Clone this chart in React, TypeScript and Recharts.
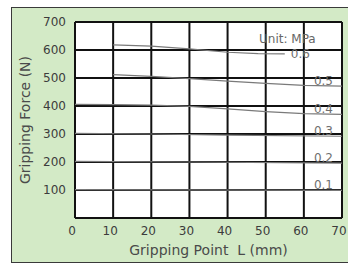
import { LineChart, Line, XAxis, YAxis, CartesianGrid } from 'recharts'

const xTicks = [0, 10, 20, 30, 40, 50, 60, 70]
const yTicks = [0, 100, 200, 300, 400, 500, 600, 700]

// gripping force (N) at gripping point L (mm), per pressure
const p06 = [
  { x: 10, y: 618 },
  { x: 20, y: 614 },
  { x: 30, y: 604 },
  { x: 40, y: 592 },
  { x: 48, y: 587 },
  { x: 55, y: 586 },
]
const p05 = [
  { x: 10, y: 512 },
  { x: 20, y: 506 },
  { x: 30, y: 498 },
  { x: 40, y: 489 },
  { x: 50, y: 481 },
  { x: 60, y: 474 },
  { x: 70, y: 471 },
]
const p04 = [
  { x: 0, y: 406 },
  { x: 10, y: 405 },
  { x: 20, y: 403 },
  { x: 30, y: 399 },
  { x: 40, y: 390 },
  { x: 50, y: 380 },
  { x: 60, y: 373 },
  { x: 70, y: 370 },
]
const p03 = [
  { x: 0, y: 302 },
  { x: 20, y: 300 },
  { x: 40, y: 296 },
  { x: 70, y: 292 },
]
const p02 = [
  { x: 0, y: 202 },
  { x: 30, y: 200 },
  { x: 70, y: 196 },
]
const p01 = [
  { x: 0, y: 101 },
  { x: 70, y: 99 },
]

const series = [
  { name: '0.6', data: p06, side: 'right' },
  { name: '0.5', data: p05, side: 'above' },
  { name: '0.4', data: p04, side: 'above' },
  { name: '0.3', data: p03, side: 'above' },
  { name: '0.2', data: p02, side: 'above' },
  { name: '0.1', data: p01, side: 'above' },
]

const font = '"DejaVu Sans", Verdana, sans-serif'

const endLabel = (name: string, side: string, last: number) => (props: any) => {
  if (props.index !== last) return null
  const { x, y } = props
  if (side === 'right') {
    return (
      <text x={x + 6} y={y + 4} fontSize={12} fill="#707070" fontFamily={font}>
        {name}
      </text>
    )
  }
  return (
    <text x={x - 9} y={y - 1} fontSize={12} fill="#707070" textAnchor="end" fontFamily={font}>
      {name}
    </text>
  )
}

export default function App() {
  return (
    <div style={{ position: 'absolute', left: 0, top: 0, width: 348, height: 264, background: '#fff', overflow: 'hidden' }}>
      <div
        style={{
          position: 'absolute',
          left: 11,
          top: 7,
          width: 345,
          height: 254,
          background: '#d3eac6',
          border: '1.5px solid #3a3a3a',
        }}
      />
      <div style={{ position: 'absolute', left: 0, top: 0 }}>
        <LineChart width={348} height={264} margin={{ top: 22, right: 6, bottom: 26, left: 35 }}>
          <CartesianGrid stroke="#111" strokeWidth={2} fill="#fff" />
          <XAxis
            dataKey="x"
            type="number"
            domain={[0, 70]}
            ticks={xTicks}
            height={20}
            axisLine={false}
            tickLine={false}
            tick={{ fontSize: 12, fill: '#3c3c3c', fontFamily: font, dx: -3 }}
            tickMargin={2}
            allowDuplicatedCategory={false}
            label={{ value: 'Gripping Point\u00a0\u00a0L (mm)', position: 'center', dy: 22, fontSize: 14, fill: '#4a4a4a', fontFamily: font }}
          />
          <YAxis
            type="number"
            domain={[0, 700]}
            ticks={yTicks}
            width={40}
            axisLine={false}
            tickLine={false}
            tickFormatter={(v: number) => (v === 0 ? '' : String(v))}
            tick={{ fontSize: 12, fill: '#3c3c3c', fontFamily: font }}
            tickMargin={3}
            label={{ value: 'Gripping Force (N)', angle: -90, position: 'center', dx: -30, fontSize: 14, fill: '#4a4a4a', fontFamily: font }}
          />
          {series.map((s) => (
            <Line
              key={s.name}
              data={s.data}
              dataKey="y"
              stroke="#7a7a7a"
              strokeWidth={1.2}
              dot={false}
              isAnimationActive={false}
              label={endLabel(s.name, s.side, s.data.length - 1)}
            />
          ))}
        </LineChart>
      </div>
      <div
        style={{
          position: 'absolute',
          left: 259,
          top: 32,
          fontSize: 12,
          color: '#666',
          fontFamily: font,
          whiteSpace: 'nowrap',
        }}
      >
        Unit: MPa
      </div>
    </div>
  )
}
